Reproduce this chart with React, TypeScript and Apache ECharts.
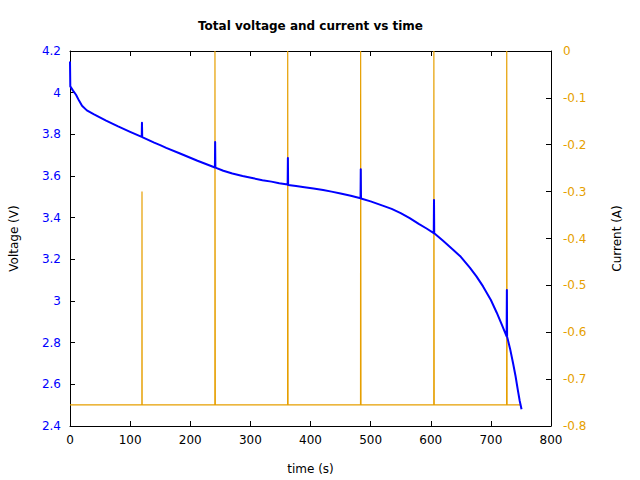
import React, { useEffect, useRef } from "react";
import * as echarts from "echarts";

const title = "Total voltage and current vs time";
const xName = "time (s)";
const yLeftName = "Voltage (V)";
const yRightName = "Current (A)";

// time (s), voltage (V)
const voltageT = [
  0, 0.5, 5, 10, 15, 20, 28, 40, 60, 80, 100, 119.3, 119.7, 120.1, 140, 150, 160, 183, 212,
  241.0, 241.4, 241.8, 255, 270, 287, 305, 320, 335, 348, 362.0, 362.4, 362.8, 376, 390, 405,
  421, 435, 450, 467, 483.2, 483.6, 484.0, 500, 520, 535, 550, 565, 580, 593, 605.0, 605.4,
  605.8, 620, 637.6, 650, 665, 676, 687, 700, 709.6, 718, 726.2, 726.6, 727.0, 732, 737, 741,
  745, 748, 751,
];
const voltageV = [
  4.15, 4.03, 4.01, 3.99, 3.962, 3.937, 3.915, 3.896, 3.866, 3.838, 3.812, 3.788, 3.856,
  3.787, 3.76, 3.748, 3.735, 3.708, 3.673, 3.641, 3.763, 3.64, 3.625, 3.612, 3.6, 3.589,
  3.58, 3.573, 3.565, 3.559, 3.686, 3.557, 3.552, 3.546, 3.54, 3.533, 3.525, 3.516, 3.505,
  3.493, 3.632, 3.492, 3.478, 3.458, 3.442, 3.422, 3.398, 3.37, 3.348, 3.326, 3.485, 3.325,
  3.29, 3.245, 3.212, 3.16, 3.118, 3.07, 3.005, 2.945, 2.888, 2.83, 3.053, 2.829, 2.77, 2.7,
  2.64, 2.57, 2.52, 2.48,
];

// time (s), current (A)
const currentT = [
  0, 119.5, 119.75, 120.0, 240.9, 241.1, 241.5, 241.7, 361.9, 362.1, 362.5, 362.7, 483.2,
  483.4, 483.8, 484.0, 605.0, 605.2, 605.6, 605.8, 726.2, 726.4, 726.8, 727.0, 748.4,
];
const currentA = [
  -0.755, -0.755, -0.3, -0.755, -0.755, 0, 0, -0.755, -0.755, 0, 0, -0.755, -0.755, 0, 0,
  -0.755, -0.755, 0, 0, -0.755, -0.755, 0, 0, -0.755, -0.755,
];

const xTicks = { min: 0, max: 800, interval: 100 };
const yLeftTicks = { min: 2.4, max: 4.2, interval: 0.2 };
const yRightTicks = { min: -0.8, max: 0, interval: 0.1 };

const BLUE = "#0000ff";
const ORANGE = "#e69f00";
const FONT = "DejaVu Sans";

export default function App() {
  const ref = useRef<HTMLDivElement>(null);

  useEffect(() => {
    if (!ref.current) return;
    const chart = echarts.init(ref.current, undefined, { renderer: "svg" });
    const fmt = (v: number) => String(+Number(v).toFixed(2));
    const voltage = voltageT.map((t, i) => [t, voltageV[i]]);
    const current = currentT.map((t, i) => [t, currentA[i]]);
    const axisLine = { show: true, onZero: false, lineStyle: { color: "#000", width: 1 } };
    const axisTick = { show: true, inside: true, length: 5, lineStyle: { color: "#000", width: 1 } };

    chart.setOption({
      animation: false,
      backgroundColor: "#ffffff",
      grid: { left: 70, right: 89, top: 51, bottom: 54, containLabel: false },
      xAxis: [
        {
          type: "value",
          position: "bottom",
          min: xTicks.min,
          max: xTicks.max,
          interval: xTicks.interval,
          axisLine,
          axisTick,
          splitLine: { show: false },
          axisLabel: { color: "#000", fontFamily: FONT, fontSize: 12, margin: 8, formatter: fmt },
        },
        {
          type: "value",
          position: "top",
          min: xTicks.min,
          max: xTicks.max,
          interval: xTicks.interval,
          axisLine,
          axisTick,
          splitLine: { show: false },
          axisLabel: { show: false },
        },
      ],
      yAxis: [
        {
          type: "value",
          position: "left",
          min: yLeftTicks.min,
          max: yLeftTicks.max,
          interval: yLeftTicks.interval,
          axisLine,
          axisTick,
          splitLine: { show: false },
          axisLabel: { color: BLUE, fontFamily: FONT, fontSize: 12, margin: 9, formatter: fmt },
        },
        {
          type: "value",
          position: "right",
          min: yRightTicks.min,
          max: yRightTicks.max,
          interval: yRightTicks.interval,
          axisLine,
          axisTick,
          splitLine: { show: false },
          axisLabel: { color: ORANGE, fontFamily: FONT, fontSize: 12, margin: 12, formatter: fmt },
        },
      ],
      series: [
        {
          name: "Current",
          type: "line",
          xAxisIndex: 0,
          yAxisIndex: 1,
          data: current,
          showSymbol: false,
          symbol: "none",
          lineStyle: { color: ORANGE, width: 1.2 },
          z: 2,
        },
        {
          name: "Voltage",
          type: "line",
          xAxisIndex: 0,
          yAxisIndex: 0,
          data: voltage,
          showSymbol: false,
          symbol: "none",
          lineStyle: { color: BLUE, width: 2, join: "round" },
          z: 3,
        },
      ],
      graphic: [
        {
          type: "text",
          x: 310.5,
          y: 26,
          style: {
            text: title,
            fill: "#000",
            font: `bold 12px "${FONT}"`,
            textAlign: "center",
            textVerticalAlign: "middle",
          },
        },
        {
          type: "text",
          x: 310.5,
          y: 469,
          style: {
            text: xName,
            fill: "#000",
            font: `12px "${FONT}"`,
            textAlign: "center",
            textVerticalAlign: "middle",
          },
        },
        {
          type: "text",
          x: 14,
          y: 238.5,
          rotation: Math.PI / 2,
          style: {
            text: yLeftName,
            fill: "#000",
            font: `12px "${FONT}"`,
            textAlign: "center",
            textVerticalAlign: "middle",
          },
        },
        {
          type: "text",
          x: 617,
          y: 238.5,
          rotation: Math.PI / 2,
          style: {
            text: yRightName,
            fill: "#000",
            font: `12px "${FONT}"`,
            textAlign: "center",
            textVerticalAlign: "middle",
          },
        },
      ],
    });

    return () => chart.dispose();
  }, []);

  return <div ref={ref} style={{ width: 640, height: 480, position: "absolute", left: 0, top: 0 }} />;
}
